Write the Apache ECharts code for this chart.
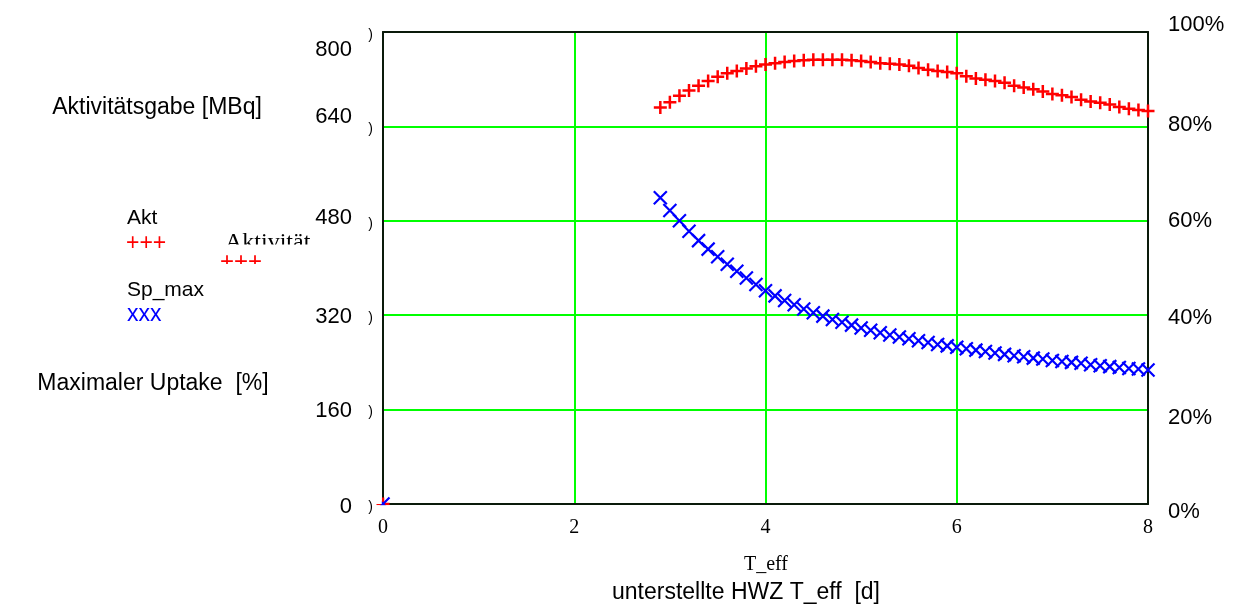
<!DOCTYPE html>
<html>
<head>
<meta charset="utf-8">
<script src="https://cdn.jsdelivr.net/npm/echarts@6/dist/echarts.min.js"></script>
<style>
html,body{margin:0;padding:0;background:#fff;}
#c{width:1247px;height:607px;}
</style>
</head>
<body>
<div id="c"></div>
<script>
// ---- data ----
const tEff = [0, 2.9, 3.0, 3.1, 3.2, 3.3, 3.4, 3.5, 3.6, 3.7, 3.8, 3.9,
  4.0, 4.1, 4.2, 4.3, 4.4, 4.5, 4.6, 4.7, 4.8, 4.9,
  5.0, 5.1, 5.2, 5.3, 5.4, 5.5, 5.6, 5.7, 5.8, 5.9,
  6.0, 6.1, 6.2, 6.3, 6.4, 6.5, 6.6, 6.7, 6.8, 6.9,
  7.0, 7.1, 7.2, 7.3, 7.4, 7.5, 7.6, 7.7, 7.8, 7.9, 8.0];
// Aktivitätsgabe [MBq]
const akt = [0, 672, 681, 692, 701, 709, 717, 724, 730, 734, 738, 742,
  745, 747, 749, 751, 752, 753, 753, 753, 753, 752,
  751, 749, 747, 746, 745, 743, 739, 736, 734, 732,
  730, 725, 721, 719, 717, 714, 709, 706, 703, 699,
  695, 693, 690, 685, 682, 680, 677, 673, 670, 668, 666];
// Maximaler Uptake [%]
const spMax = [0, 64.9, 62.2, 60.0, 57.8, 55.8, 54.0, 52.4, 50.8, 49.3, 47.9, 46.5,
  45.2, 44.1, 43.1, 42.2, 41.3, 40.5, 39.8, 39.1, 38.5, 37.9,
  37.3, 36.8, 36.3, 35.8, 35.4, 35.0, 34.6, 34.2, 33.8, 33.5,
  33.2, 32.9, 32.6, 32.3, 32.0, 31.7, 31.4, 31.2, 30.9, 30.7,
  30.4, 30.2, 30.0, 29.8, 29.5, 29.3, 29.1, 28.9, 28.7, 28.6, 28.4];
const xTicks = [0, 2, 4, 6, 8];
const leftTicks = [0, 160, 320, 480, 640, 800];
const rightTicks = [0, 20, 40, 60, 80, 100];

const SANS = '"Liberation Sans", Arial, sans-serif';
const SERIF = '"Liberation Serif", "Times New Roman", serif';
const GREEN = '#00ff00';
const FRAME = '#0a1a0a';

const leftPad = {800:[36,0,0,0], 640:[0,0,18,0], 480:[0,0,6,0], 320:[4,0,0,0], 160:[2,0,0,0], 0:[6,0,0,0]};
const rightPad = {100:[0,0,14,0], 80:[0,0,2,0], 60:[0,0,0,0], 40:[6,0,0,0], 20:[16,0,0,0], 0:[16,0,0,0]};
const leftRich = {}, rightRich = {};
leftTicks.forEach(v => { leftRich['l' + v] = {padding: leftPad[v], fontSize: 22, fontFamily: SANS, color: '#000'}; });
rightTicks.forEach(v => { rightRich['r' + v] = {padding: rightPad[v], fontSize: 22, fontFamily: SANS, color: '#000'}; });

function txt(x, y, text, font, color, align) {
  return {type: 'text', x: x, y: y, z: 50,
    style: {text: text, font: font, fill: color || '#000', align: align || 'left', verticalAlign: 'middle'}};
}

const chart = echarts.init(document.getElementById('c'), null, {renderer: 'canvas'});
const option = {
  animation: false,
  backgroundColor: '#fff',
  grid: {left: 383, right: 99, top: 32, bottom: 103, containLabel: false},
  xAxis: [{
    type: 'value', min: 0, max: 8, interval: 2, position: 'bottom',
    axisLine: {show: true, onZero: false, lineStyle: {color: FRAME, width: 2}},
    axisTick: {show: false},
    axisLabel: {fontFamily: SERIF, fontSize: 20, color: '#000', margin: 14,
      formatter: v => xTicks.indexOf(v) >= 0 ? String(v) : ''},
    splitLine: {show: true, showMinLine: false, showMaxLine: false, lineStyle: {color: GREEN, width: 2}}
  }, {
    type: 'value', min: 0, max: 8, interval: 2, position: 'top',
    axisLine: {show: true, onZero: false, lineStyle: {color: FRAME, width: 2}},
    axisTick: {show: false}, axisLabel: {show: false}, splitLine: {show: false}
  }],
  yAxis: [{
    type: 'value', min: 0, max: 800, interval: 160, position: 'left',
    axisLine: {show: true, onZero: false, lineStyle: {color: FRAME, width: 2}},
    axisTick: {show: false},
    axisLabel: {margin: 31, formatter: v => '{l' + v + '|' + v + '}', rich: leftRich},
    splitLine: {show: true, showMinLine: false, showMaxLine: false, lineStyle: {color: GREEN, width: 2}}
  }, {
    type: 'value', min: 0, max: 100, interval: 20, position: 'right',
    axisLine: {show: true, onZero: false, lineStyle: {color: FRAME, width: 2}},
    axisTick: {show: false},
    axisLabel: {margin: 20, align: 'left', formatter: v => '{r' + v + '|' + v + '%}', rich: rightRich},
    splitLine: {show: false}
  }, {
    type: 'value', min: 0, max: 800, interval: 160, position: 'left', offset: 0,
    axisLine: {show: false}, axisTick: {show: false},
    axisLabel: {margin: 10, fontSize: 14, fontFamily: SANS, color: '#000',
      formatter: () => '{p|)}', rich: {p: {padding: [6,0,0,0], fontSize: 14, fontFamily: SANS, color: '#000'}}},
    splitLine: {show: false}
  }],
  series: [{
    name: 'Akt', type: 'scatter', xAxisIndex: 0, yAxisIndex: 0,
    symbol: 'path://M0 5L10 5M5 0L5 10', symbolSize: 13,
    itemStyle: {color: 'none', borderColor: '#ff0000', borderWidth: 2.5, opacity: 1},
    data: tEff.map((t, i) => [t, akt[i]]), z: 5
  }, {
    name: 'Sp_max', type: 'scatter', xAxisIndex: 0, yAxisIndex: 1,
    symbol: 'path://M0 0L10 10M10 0L0 10', symbolSize: 13,
    itemStyle: {color: 'none', borderColor: '#0000ff', borderWidth: 2.2, opacity: 1},
    data: tEff.map((t, i) => [t, spMax[i]]), z: 5
  }],
  graphic: [
    txt(157, 108, 'Aktivitätsgabe [MBq]', '23px ' + SANS, '#000', 'center'),
    txt(153, 384, 'Maximaler Uptake  [%]', '23px ' + SANS, '#000', 'center'),
    txt(127, 218, 'Akt', '21px ' + SANS),
    txt(126, 244, '+++', '23px ' + SANS, '#ff0000'),
    txt(127, 290, 'Sp_max', '21px ' + SANS),
    txt(127, 315, 'xxx', '23px ' + SANS, '#0000ff'),
    txt(225, 243, 'Aktivität', '24px ' + SERIF),
    txt(220, 262, '+++', '24px ' + SANS, '#ff0000'),
    {type: 'rect', x: 215, y: 244.5, shape: {width: 125, height: 10.5}, style: {fill: '#fff'}, z: 100},
    {type: 'rect', x: 215, y: 264, shape: {width: 125, height: 14}, style: {fill: '#fff'}, z: 100},
    // hide the parts of the origin markers that fall outside the plot, as in the reference
    {type: 'rect', x: 374, y: 494, shape: {width: 7.8, height: 10}, style: {fill: '#fff'}, z: 100},
    {type: 'rect', x: 374, y: 505.2, shape: {width: 30, height: 9}, style: {fill: '#fff'}, z: 100},
    txt(766, 565, 'T_eff', '20px ' + SERIF, '#000', 'center'),
    txt(746, 593, 'unterstellte HWZ T_eff  [d]', '23px ' + SANS, '#000', 'center')
  ]
};
chart.setOption(option);
</script>
</body>
</html>
